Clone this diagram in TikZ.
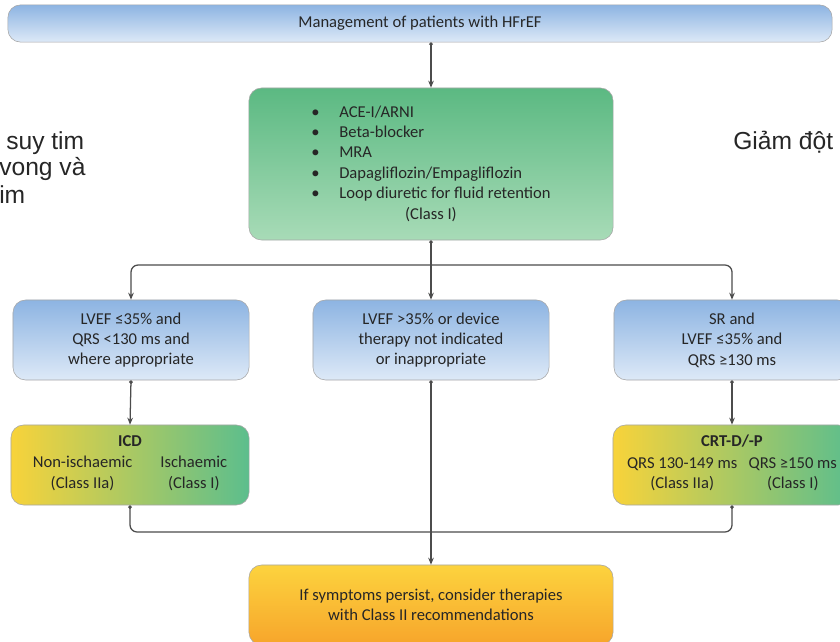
\documentclass[tikz,border=0pt]{standalone}
\usepackage{fontspec}
\setmainfont{Carlito}
\newfontfamily\vnfont{Liberation Sans}
\usetikzlibrary{arrows.meta}
\definecolor{blueT}{HTML}{8DB4E2}\definecolor{blueB}{HTML}{DDE9F7}
\definecolor{greenT}{HTML}{5BB982}\definecolor{greenB}{HTML}{A8DBB7}
\definecolor{icdY}{HTML}{F8D33A}\definecolor{icdM}{HTML}{BBD36C}\definecolor{icdG}{HTML}{5CBE8D}
\definecolor{orT}{HTML}{FCD33E}\definecolor{orB}{HTML}{F7A52B}

\begin{document}
\begin{tikzpicture}[x=0.025cm, y=-0.025cm, font=\fontsize{11.8}{14.5}\selectfont, text=black!85,
  box/.style={draw=black!35, rounded corners=9pt, align=center, inner sep=2pt},
  bluebox/.style={box, top color=blueT, bottom color=blueB, minimum width=5.9cm, minimum height=2cm},
  devbox/.style={box, left color=icdY, middle color=icdM, right color=icdG, minimum width=5.95cm, minimum height=2cm},
  side/.style={font=\vnfont\fontsize{17.5}{20}\selectfont, anchor=west, inner sep=0pt},
  link/.style={draw=black!70, line width=0.9pt, rounded corners=5pt},
  dot/.style={{Circle[length=2.5pt]}-},
  dotarrow/.style={{Circle[length=2.5pt]}-{Stealth[length=5pt,width=4pt]}},
  arrow/.style={-{Stealth[length=5pt,width=4pt]}}]
\useasboundingbox (0,0) rectangle (840,642); \clip (0,0) rectangle (840,642);
% side notes (cut off)
\node[side] (vn1) at (6,143) {suy tim};
\node[side] (vn2) at (-1,169) {vong và};
\node[side] (vn3) at (-1,195) {im};
\node[side] (vn4) at (733,142) {Giảm đột};
% boxes
\node[box, top color=blueT, bottom color=blueB, minimum width=20.6cm, minimum height=0.93cm] (hf) at (420,23.5) {Management of patients with HFrEF};
\node[box, top color=greenT, bottom color=greenB, minimum width=9.1cm, minimum height=3.8cm] (rx) at (431,164) {\begin{tabular}{@{}c@{\hspace{14pt}}l@{}}
\textbullet & ACE-I/ARNI\\ \textbullet & Beta-blocker\\ \textbullet & MRA\\ \textbullet & Dapagliflozin/Empagliflozin\\ \textbullet & Loop diuretic for fluid retention\\ \multicolumn{2}{c}{(Class I)}\end{tabular}};
\node[bluebox] (lc) at (131,340) {LVEF ≤35\% and\\QRS <130 ms and\\where appropriate};
\node[bluebox] (mc) at (431,340) {LVEF >35\% or device\\therapy not indicated\\or inappropriate};
\node[bluebox] (rc) at (732,340) {SR and\\LVEF ≤35\% and\\QRS ≥130 ms};
\node[devbox] (icd) at (130,465) {\textbf{ICD}\\[4pt]\begin{tabular}{@{}c@{\hspace{20pt}}c@{}}Non-ischaemic & Ischaemic\\(Class IIa) & (Class I)\end{tabular}};
\node[devbox] (crt) at (732,465) {\textbf{CRT-D/-P}\\[4pt]\begin{tabular}{@{}c@{\hspace{8pt}}c@{}}QRS 130-149 ms & QRS ≥150 ms\\(Class IIa) & (Class I)\end{tabular}};
\node[box, top color=orT, bottom color=orB, minimum width=9.1cm, minimum height=2cm] (rs) at (431,605) {If symptoms persist, consider therapies\\with Class II recommendations};
% connectors
\coordinate (jt) at (431,265); \coordinate (jb) at (431,532);
\draw[link, dotarrow] (hf.south -| rx.north) -- (rx.north);
\draw[link, dot] (rx.south) -- (jt);
\draw[link, arrow] (jt) -| (lc.north); \draw[link, arrow] (jt) -- (mc.north); \draw[link, arrow] (jt) -| (rc.north);
\draw[link, dotarrow] (lc.south) -- (icd.north); \draw[link, dotarrow] (rc.south) -- (crt.north);
\draw[link, dot] (icd.south) |- (jb); \draw[link, dot] (crt.south) |- (jb);
\draw[link, dotarrow] (mc.south) -- (rs.north);
\end{tikzpicture}
\end{document}
